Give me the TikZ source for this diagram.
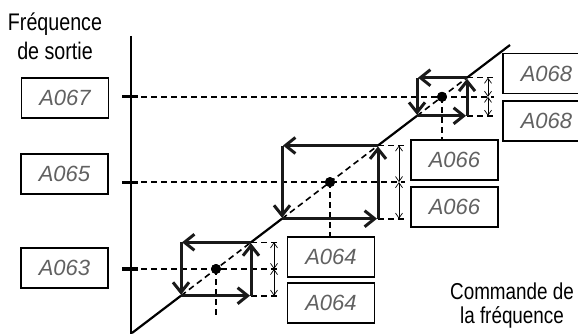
\documentclass[tikz,border=0pt]{standalone}
\usepackage{fontspec}
\setmainfont{Liberation Sans}[FakeStretch=0.82]
\newfontfamily\dispfont{Liberation Sans}
\usetikzlibrary{arrows.meta, calc}

\begin{document}
\begin{tikzpicture}[
    x=1pt, y=-1pt,
    caption/.style={align=center, inner sep=0pt, font=\fontsize{24}{29}\selectfont},
    param/.style={rectangle, draw=black, line width=1.5pt, minimum width=87pt, minimum height=40pt, inner sep=0pt, font=\dispfont\itshape\fontsize{22}{22}\selectfont, text=black!62},
    flow/.style={-{Straight Barb[length=10pt, width=16pt]}, line width=3pt, draw=black!90, shorten >=1pt},
    guide/.style={dash pattern=on 6pt off 4pt, line width=1.6pt},
    diag/.style={line width=2.2pt},
    dim/.style={{Straight Barb[length=5pt, width=7pt]}-{Straight Barb[length=5pt, width=7pt]}, line width=0.7pt},
    axtick/.style={line width=3.2pt},
    spot/.style={circle, fill=black, inner sep=0pt, minimum size=10pt}
]
\useasboundingbox (0,0) rectangle (578,334);
\clip (0,0) rectangle (578,334);

% Axis labels
\node[caption, anchor=north] (fout) at (55,13) {Fréquence\\de sortie};
\node[caption, anchor=north, font=\fontsize{23}{24}\selectfont] (fcmd) at (512,283) {Commande de\\la fréquence};

% Output frequency axis
\coordinate (ax-top) at (131,36);
\coordinate (ax-bot) at (131,336);
\draw[line width=1.6pt] (ax-top) -- (ax-bot);

% Set points and band corners
\node[spot] (m1) at (216,269) {};
\node[spot] (m2) at (330,182.1) {};
\node[spot] (m3) at (442,96.8) {};
\coordinate (bl1) at (181,295.7); \coordinate (tr1) at (251,242.3);
\coordinate (bl2) at (282,218.7); \coordinate (tr2) at (378,145.5);
\coordinate (bl3) at (417,115.8); \coordinate (tr3) at (467,77.7);
\coordinate (d1) at (274,269);
\coordinate (d2) at (399,182.1);
\coordinate (d3) at (488,96.8);

% Command curve
\coordinate (c-start) at (132,333);
\coordinate (c-end) at (510,45);
\draw[diag] (c-start) -- (bl1) (tr1) -- (bl2) (tr2) -- (bl3) (tr3) -- (c-end);
\draw[guide] (bl1) -- (tr1) (bl2) -- (tr2) (bl3) -- (tr3);

% Parameter boxes, output side
\node[param] (p67) at (65,98) {A067};
\node[param] (p65) at (64.5,174) {A065};
\node[param] (p63) at (64.5,268) {A063};

% Parameter boxes, band limits
\node[param] (p64h) at (331,257) {A064};
\node[param] (p64l) at (331,303) {A064};
\node[param] (p66h) at (454.5,160) {A066};
\node[param] (p66l) at (454.5,207) {A066};
\node[param] (p68h) at (546.5,73.5) {A068};
\node[param] (p68l) at (546.5,121) {A068};

% Output levels
\draw[axtick] ($(ax-top |- m1)+(-9,0)$) -- ++(16,0);
\draw[axtick] ($(ax-top |- m2)+(-9,0)$) -- ++(16,0);
\draw[axtick] ($(ax-top |- m3)+(-9,0)$) -- ++(16,0);
\draw[guide] (ax-top |- m1) -- ($(d1)+(6,0)$);
\draw[guide] (ax-top |- m2) -- ($(d2)+(6,0)$);
\draw[guide] (ax-top |- m3) -- ($(d3)+(6,0)$);
\draw[guide] (m1.center) -- ++(0,46);
\draw[guide] (m2.center) -- (m2 |- p64h.north);
\draw[guide] (m3.center) -- (m3 |- p66h.north);

% Band limits
\draw[guide] (tr1) -- ($(tr1 -| d1)+(6,0)$);
\draw[guide] (tr1 |- bl1) -- ($(bl1 -| d1)+(6,0)$);
\draw[dim] (tr1 -| d1) -- (d1);
\draw[dim] (d1) -- (bl1 -| d1);
\draw[guide] (tr2) -- ($(tr2 -| d2)+(6,0)$);
\draw[guide] (tr2 |- bl2) -- ($(bl2 -| d2)+(6,0)$);
\draw[dim] (tr2 -| d2) -- (d2);
\draw[dim] (d2) -- (bl2 -| d2);
\draw[guide] (tr3) -- ($(tr3 -| d3)+(6,0)$);
\draw[guide] (tr3 |- bl3) -- ($(bl3 -| d3)+(6,0)$);
\draw[dim] (tr3 -| d3) -- (d3);
\draw[dim] (d3) -- (bl3 -| d3);

% Hysteresis loops
\draw[flow] (tr1) -- (bl1 |- tr1);
\draw[flow] (bl1 |- tr1) -- (bl1);
\draw[flow] (bl1) -- (tr1 |- bl1);
\draw[flow] (tr1 |- bl1) -- (tr1);
\draw[flow] (tr2) -- (bl2 |- tr2);
\draw[flow] (bl2 |- tr2) -- (bl2);
\draw[flow] (bl2) -- (tr2 |- bl2);
\draw[flow] (tr2 |- bl2) -- (tr2);
\draw[flow] (tr3) -- (bl3 |- tr3);
\draw[flow] (bl3 |- tr3) -- (bl3);
\draw[flow] (bl3) -- (tr3 |- bl3);
\draw[flow] (tr3 |- bl3) -- (tr3);

% Set points on top
\node[spot] at (m1) {};
\node[spot] at (m2) {};
\node[spot] at (m3) {};
\end{tikzpicture}
\end{document}
